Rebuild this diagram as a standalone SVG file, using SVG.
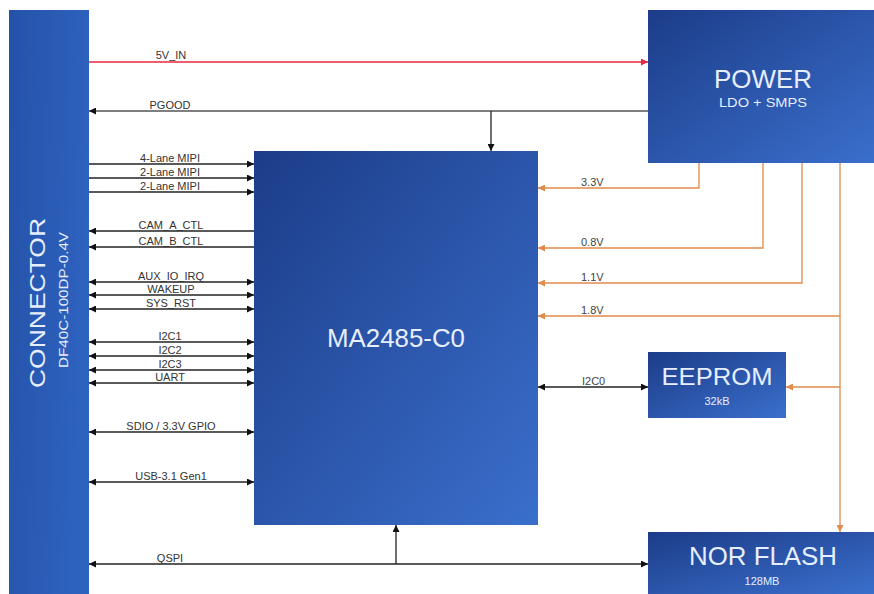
<svg xmlns="http://www.w3.org/2000/svg" width="874" height="594" viewBox="0 0 874 594">
<defs>
<linearGradient id="blue" x1="0" y1="0" x2="1" y2="1">
<stop offset="0" stop-color="#1c3c88"/>
<stop offset="1" stop-color="#3a6fcc"/>
</linearGradient>
<linearGradient id="blueV" x1="0" y1="0" x2="1" y2="0.3">
<stop offset="0" stop-color="#2452a8"/>
<stop offset="1" stop-color="#2e62bf"/>
</linearGradient>
<marker id="ak" viewBox="0 0 10 10" refX="10" refY="5" markerWidth="7" markerHeight="7" markerUnits="userSpaceOnUse" orient="auto-start-reverse">
<path d="M0,0 L10,5 L0,10 z" fill="#111"/>
</marker>
<marker id="ar" viewBox="0 0 10 10" refX="10" refY="5" markerWidth="7" markerHeight="7" markerUnits="userSpaceOnUse" orient="auto-start-reverse">
<path d="M0,0 L10,5 L0,10 z" fill="#e8283c"/>
</marker>
<marker id="ao" viewBox="0 0 10 10" refX="10" refY="5" markerWidth="7" markerHeight="7" markerUnits="userSpaceOnUse" orient="auto-start-reverse">
<path d="M0,0 L10,5 L0,10 z" fill="#e08a4c"/>
</marker>
</defs>
<style>
.box{fill:url(#blue)}
.big{font-family:"Liberation Sans",Arial,sans-serif;fill:#e6eeff;text-anchor:middle}
.lbl{font-family:"Liberation Sans",Arial,sans-serif;font-size:11px;fill:#333;text-anchor:middle}
.lblL{font-family:"Liberation Sans",Arial,sans-serif;font-size:11px;fill:#444}
.k{stroke:#222;stroke-width:1.3;fill:none}
.o{stroke:#e08a4c;stroke-width:1.3;fill:none}
.r{stroke:#e8283c;stroke-width:1.4;fill:none}
</style>
<rect width="874" height="594" fill="#ffffff"/>

<g id="connectors">
<line class="r" x1="89" y1="62" x2="648" y2="62" marker-end="url(#ar)"/>
<line x1="648" y1="111" x2="89" y2="111" stroke="#555" stroke-width="1.5" marker-end="url(#ak)"/>
<line class="k" x1="491" y1="111" x2="491" y2="151" marker-end="url(#ak)"/>
<line class="k" x1="89" y1="164" x2="254" y2="164" marker-end="url(#ak)"/>
<line class="k" x1="89" y1="178" x2="254" y2="178" marker-end="url(#ak)"/>
<line class="k" x1="89" y1="192" x2="254" y2="192" marker-end="url(#ak)"/>
<line class="k" x1="254" y1="231" x2="89" y2="231" marker-end="url(#ak)"/>
<line class="k" x1="254" y1="247" x2="89" y2="247" marker-end="url(#ak)"/>
<line class="k" x1="89" y1="282" x2="254" y2="282" marker-start="url(#ak)" marker-end="url(#ak)"/>
<line class="k" x1="89" y1="295" x2="254" y2="295" marker-start="url(#ak)" marker-end="url(#ak)"/>
<line class="k" x1="89" y1="309" x2="254" y2="309" marker-start="url(#ak)" marker-end="url(#ak)"/>
<line class="k" x1="89" y1="342" x2="254" y2="342" marker-start="url(#ak)" marker-end="url(#ak)"/>
<line class="k" x1="89" y1="356" x2="254" y2="356" marker-start="url(#ak)" marker-end="url(#ak)"/>
<line class="k" x1="89" y1="370" x2="254" y2="370" marker-start="url(#ak)" marker-end="url(#ak)"/>
<line class="k" x1="89" y1="383" x2="254" y2="383" marker-start="url(#ak)" marker-end="url(#ak)"/>
<line class="k" x1="89" y1="432" x2="254" y2="432" marker-start="url(#ak)" marker-end="url(#ak)"/>
<line class="k" x1="89" y1="482" x2="254" y2="482" marker-start="url(#ak)" marker-end="url(#ak)"/>
<line class="k" x1="89" y1="564" x2="648" y2="564" marker-start="url(#ak)" marker-end="url(#ak)"/>
<line class="k" x1="396" y1="564" x2="396" y2="525" marker-end="url(#ak)"/>
<line class="k" x1="538" y1="387" x2="648" y2="387" marker-start="url(#ak)" marker-end="url(#ak)"/>
<path class="o" d="M699 163 V188 H538" marker-end="url(#ao)"/>
<path class="o" d="M763 163 V248 H538" marker-end="url(#ao)"/>
<path class="o" d="M802 163 V283 H538" marker-end="url(#ao)"/>
<path class="o" d="M840 163 V532" marker-end="url(#ao)"/>
<path class="o" d="M840 316 H538" marker-end="url(#ao)"/>
<path class="o" d="M840 387 H786" marker-end="url(#ao)"/>

<text class="lbl" x="171" y="59">5V_IN</text>
<text class="lbl" x="170" y="109">PGOOD</text>
<text class="lbl" x="170" y="162">4-Lane MIPI</text>
<text class="lbl" x="170" y="176">2-Lane MIPI</text>
<text class="lbl" x="170" y="190">2-Lane MIPI</text>
<text class="lbl" x="171" y="229">CAM_A_CTL</text>
<text class="lbl" x="171" y="245">CAM_B_CTL</text>
<text class="lbl" x="171" y="280">AUX_IO_IRQ</text>
<text class="lbl" x="171" y="293">WAKEUP</text>
<text class="lbl" x="171" y="307">SYS_RST</text>
<text class="lbl" x="170" y="340">I2C1</text>
<text class="lbl" x="170" y="354">I2C2</text>
<text class="lbl" x="170" y="368">I2C3</text>
<text class="lbl" x="170" y="381">UART</text>
<text class="lbl" x="171" y="430">SDIO / 3.3V GPIO</text>
<text class="lbl" x="171" y="480">USB-3.1 Gen1</text>
<text class="lbl" x="170" y="562">QSPI</text>
<text class="lblL" x="581" y="186">3.3V</text>
<text class="lblL" x="581" y="246">0.8V</text>
<text class="lblL" x="581" y="281">1.1V</text>
<text class="lblL" x="581" y="314">1.8V</text>
<text class="lblL" x="582" y="385">I2C0</text>
</g>

<g id="connector">
<rect x="9" y="10" width="80" height="584" fill="url(#blueV)"/>
<text class="big" transform="translate(45,303) rotate(-90)" x="0" y="0" font-size="22" textLength="170" lengthAdjust="spacingAndGlyphs">CONNECTOR</text>
<text class="big" transform="translate(68,300) rotate(-90)" x="0" y="0" font-size="12.5" textLength="136" lengthAdjust="spacingAndGlyphs">DF40C-100DP-0.4V</text>
</g>

<g id="power">
<rect class="box" x="648" y="10" width="226" height="153"/>
<text class="big" x="763" y="88" font-size="25" textLength="98" lengthAdjust="spacingAndGlyphs">POWER</text>
<text class="big" x="763" y="107" font-size="12.5" textLength="88" lengthAdjust="spacingAndGlyphs">LDO + SMPS</text>
</g>

<g id="ma2485">
<rect class="box" x="254" y="151" width="284" height="374"/>
<text class="big" x="396" y="347" font-size="25" textLength="138" lengthAdjust="spacingAndGlyphs">MA2485-C0</text>
</g>

<g id="eeprom">
<rect class="box" x="648" y="352" width="138" height="66"/>
<text class="big" x="717" y="385" font-size="23" textLength="111" lengthAdjust="spacingAndGlyphs">EEPROM</text>
<text class="big" x="717" y="405" font-size="11">32kB</text>
</g>

<g id="norflash">
<rect class="box" x="648" y="532" width="226" height="62"/>
<text class="big" x="763" y="565" font-size="25" textLength="148" lengthAdjust="spacingAndGlyphs">NOR FLASH</text>
<text class="big" x="762" y="585" font-size="11">128MB</text>
</g>
</svg>
